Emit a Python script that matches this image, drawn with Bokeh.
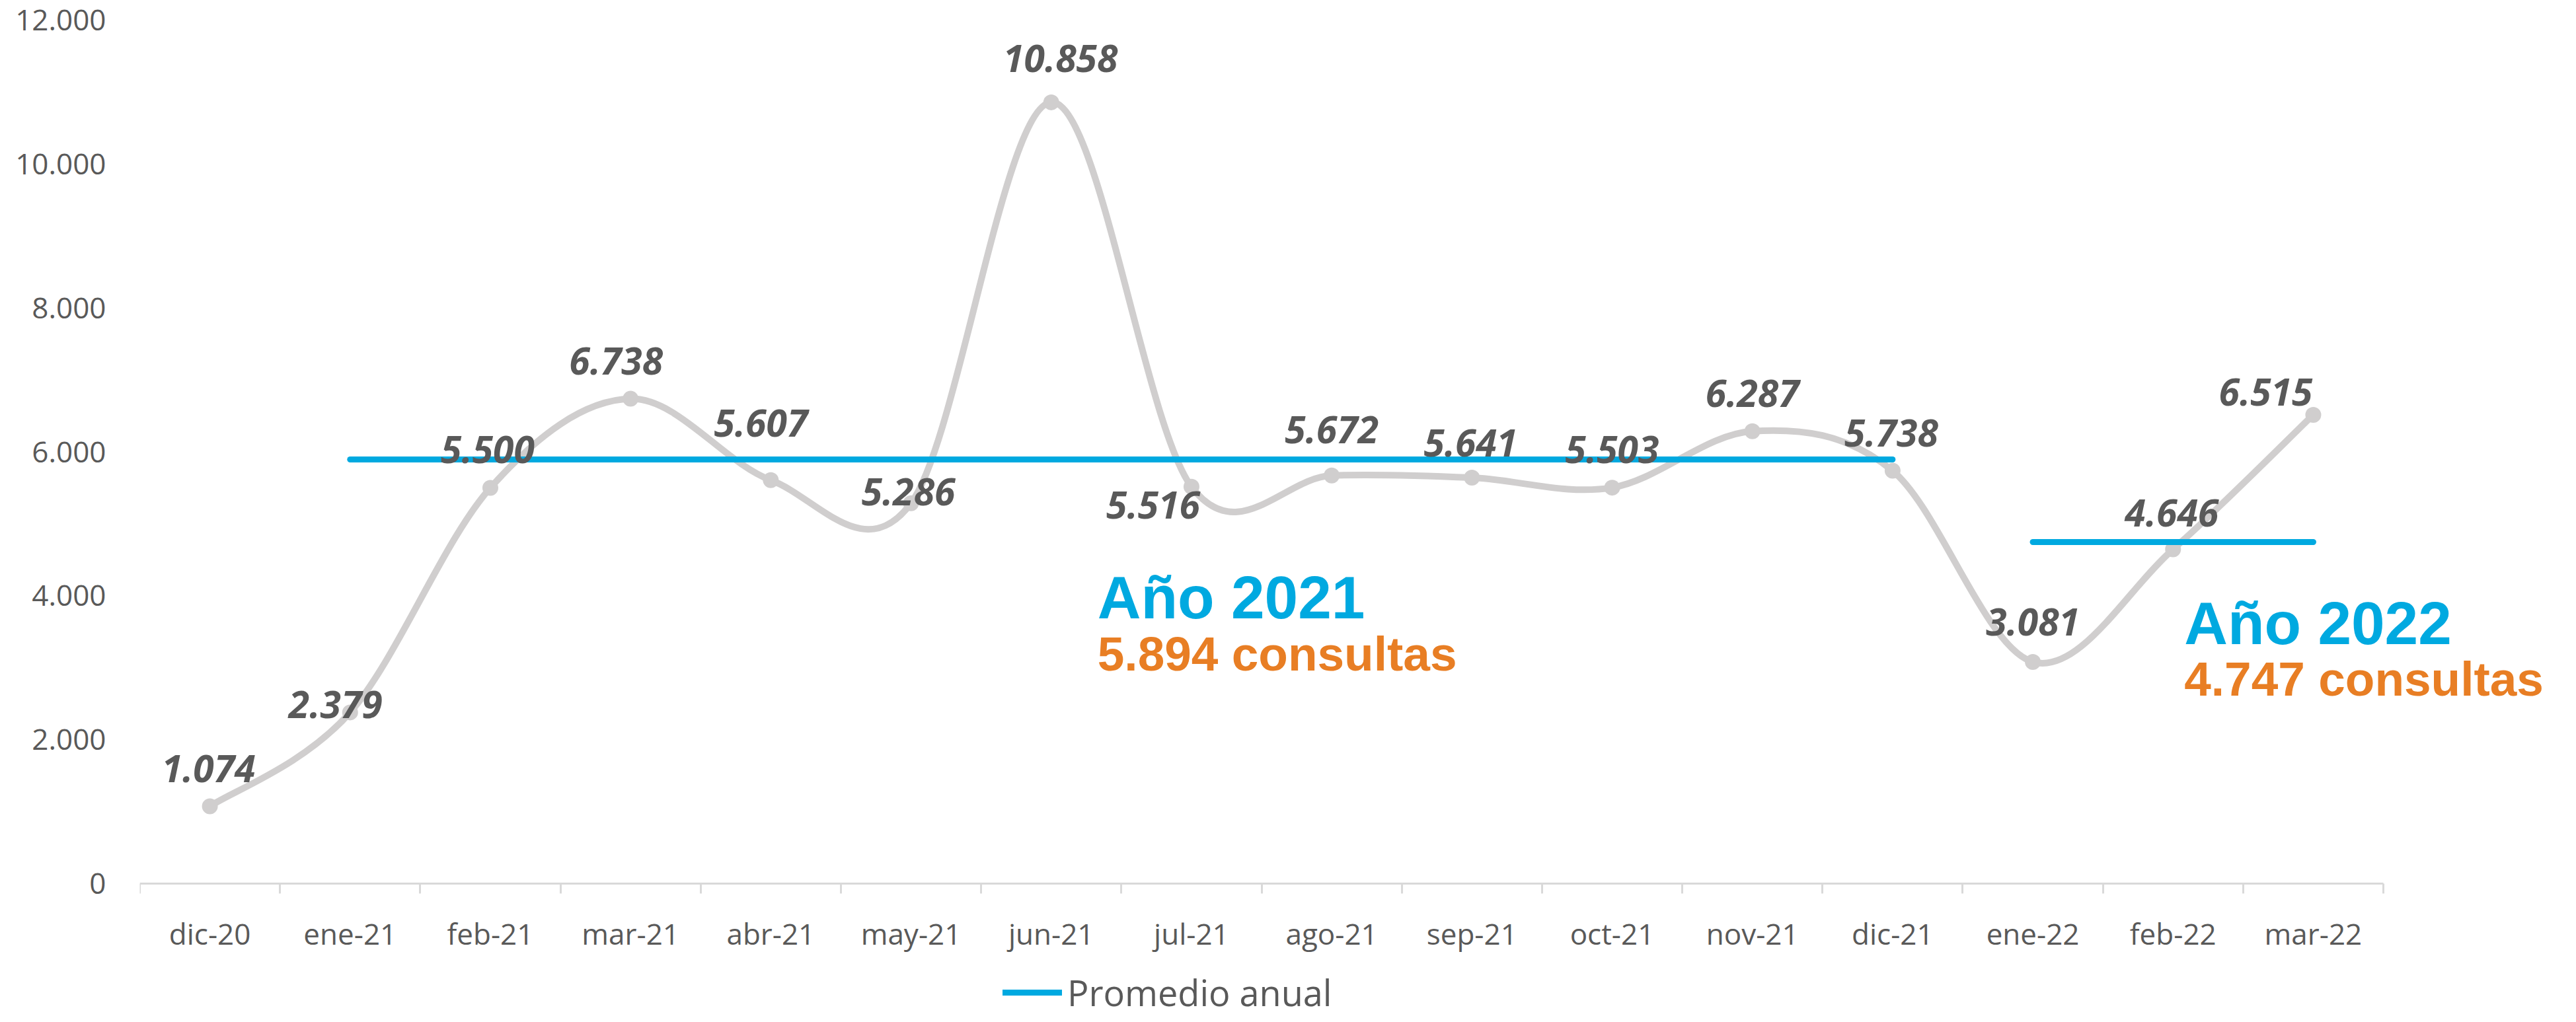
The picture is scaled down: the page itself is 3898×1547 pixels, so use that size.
from bokeh.plotting import figure
from bokeh.models import (Range1d, FixedTicker, ColumnDataSource, Legend, LegendItem,
                          CustomJSTickFormatter, Label)
from bokeh.core.properties import value
from bokeh.embed import file_html
from bokeh.resources import INLINE

# ---------------- data ----------------
months = ["dic-20", "ene-21", "feb-21", "mar-21", "abr-21", "may-21", "jun-21", "jul-21",
          "ago-21", "sep-21", "oct-21", "nov-21", "dic-21", "ene-22", "feb-22", "mar-22"]
consultas = [1074, 2379, 5500, 6738, 5607, 5286, 10858, 5516,
             5672, 5641, 5503, 6287, 5738, 3081, 4646, 6515]
avg_2021 = 5894
avg_2021_months = ["ene-21", "dic-21"]
avg_2022 = 4747
avg_2022_months = ["ene-22", "mar-22"]
y_ticks = [0, 2000, 4000, 6000, 8000, 10000, 12000]
legend_label = "Promedio anual"
title_2021 = "Año 2021"
sub_2021 = "5.894 consultas"
title_2022 = "Año 2022"
sub_2022 = "4.747 consultas"

# label placement (screen px): horizontal shift, height of label centre above point
lab_dx = [-2, -22, -4, -22, -15, -4, 14, -58, 0, -2, 0, 0, -2, 0, -2, -72]
lab_dy = [77, 32, 78, 77, 106, 37, 86, -8, 89, 73, 78, 77, 77, 80, 75, 54]

GRAY_LINE = "#D0CECE"
TXT = "#595959"
BLUE = "#00A9E0"
ORANGE = "#E87E24"

n = len(months)
xs = [i + 0.5 for i in range(n)]
idx = {m: i for i, m in enumerate(months)}

W, H = 3882, 1531
LEFT, TOP = 211, 30
CAT_PX = 212.19                       # screen width of one month
PX_PER_UNIT = 1307 / 12000            # screen px per consulta
x_end = (W - LEFT) / CAT_PX           # frame runs to the right edge of the canvas
y_start = -194 / PX_PER_UNIT          # and down to its bottom (axis drawn at y = 0)

p = figure(width=W, height=H, x_range=Range1d(0, x_end), y_range=Range1d(y_start, 12000),
           output_backend="svg", toolbar_location=None,
           min_border_left=LEFT, min_border_right=0, min_border_top=TOP, min_border_bottom=0)
p.outline_line_color = None
p.xgrid.visible = False
p.ygrid.visible = False
p.background_fill_color = "white"
p.border_fill_color = "white"

# ---------------- axes ----------------
xa = p.xaxis[0]
xa.fixed_location = 0
xa.bounds = (0, n)
xa.ticker = FixedTicker(ticks=xs, minor_ticks=list(range(n + 1)))
xa.formatter = CustomJSTickFormatter(args=dict(cats=months),
                                     code="return cats[Math.floor(tick)];")
xa.axis_line_color = "#D9D9D9"
xa.axis_line_width = 3
xa.major_tick_in = 0
xa.major_tick_out = 0
xa.major_tick_line_alpha = 0
xa.minor_tick_in = 0
xa.minor_tick_out = 15
xa.minor_tick_line_color = "#D9D9D9"
xa.minor_tick_line_width = 3
xa.major_label_text_font = "Open Sans"
xa.major_label_text_font_size = "44px"
xa.major_label_text_color = TXT
xa.major_label_standoff = 30

ya = p.yaxis[0]
ya.bounds = (0, 12000)
ya.ticker = FixedTicker(ticks=y_ticks, minor_ticks=[])
ya.formatter = CustomJSTickFormatter(
    code="return Math.round(tick).toString().replace(/\\B(?=(\\d{3})+(?!\\d))/g, '.');")
ya.axis_line_alpha = 0
ya.major_tick_in = 0
ya.major_tick_out = 0
ya.major_tick_line_alpha = 0
ya.minor_tick_line_alpha = 0
ya.major_label_text_font = "Open Sans"
ya.major_label_text_font_size = "44px"
ya.major_label_text_color = TXT
ya.major_label_standoff = 51

# ---------------- smoothed line (Catmull-Rom as cubic Bezier) ----------------
x0, y0, x1, y1, cx0, cy0, cx1, cy1 = [], [], [], [], [], [], [], []
for i in range(n - 1):
    a = max(i - 1, 0)
    d = min(i + 2, n - 1)
    x0.append(xs[i]); y0.append(consultas[i])
    x1.append(xs[i + 1]); y1.append(consultas[i + 1])
    cx0.append(xs[i] + (xs[i + 1] - xs[a]) / 6.0)
    cy0.append(consultas[i] + (consultas[i + 1] - consultas[a]) / 6.0)
    cx1.append(xs[i + 1] - (xs[d] - xs[i]) / 6.0)
    cy1.append(consultas[i + 1] - (consultas[d] - consultas[i]) / 6.0)
bez = ColumnDataSource(dict(x0=x0, y0=y0, x1=x1, y1=y1, cx0=cx0, cy0=cy0, cx1=cx1, cy1=cy1))
p.bezier(x0="x0", y0="y0", x1="x1", y1="y1", cx0="cx0", cy0="cy0", cx1="cx1", cy1="cy1",
         source=bez, line_color=GRAY_LINE, line_width=10, line_cap="round")

pts = ColumnDataSource(dict(
    x=xs, y=consultas,
    label=[f"{v:,}".replace(",", ".") for v in consultas],
    dx=lab_dx,
    dy=[-(d - 20) for d in lab_dy],
))
p.scatter(x="x", y="y", source=pts, size=24, fill_color=GRAY_LINE, line_color=None)

# ---------------- average lines ----------------
r21 = p.line(x=[xs[idx[m]] for m in avg_2021_months], y=[avg_2021, avg_2021],
             line_color=BLUE, line_width=9, line_cap="round")
r22 = p.line(x=[xs[idx[m]] for m in avg_2022_months], y=[avg_2022, avg_2022],
             line_color=BLUE, line_width=9, line_cap="round")

# ---------------- data labels ----------------
p.text(x="x", y="y", text="label", source=pts, x_offset="dx", y_offset="dy",
       text_align="center", text_baseline="alphabetic",
       text_font=value("Open Sans"), text_font_size="57px", text_font_style="bold italic",
       text_color=TXT)

# ---------------- annotations ----------------
def add_label(x, y, txt, size, color):
    p.add_layout(Label(x=x, y=y, text=txt, text_align="left", text_baseline="alphabetic",
                       text_font="Liberation Sans", text_font_size=size,
                       text_font_style="bold", text_color=color))

add_label(6.83, 3975, title_2021, "91px", BLUE)
add_label(6.83, 3195, sub_2021, "73px", ORANGE)
add_label(14.58, 3620, title_2022, "91px", BLUE)
add_label(14.58, 2850, sub_2022, "73px", ORANGE)

# ---------------- legend ----------------
legend = Legend(items=[LegendItem(label=legend_label, renderers=[r21, r22])],
                location=(1306, -8), orientation="horizontal",
                border_line_color=None, background_fill_alpha=0,
                padding=0, margin=0, spacing=0,
                glyph_width=90, glyph_height=50, label_standoff=8,
                label_text_font="Open Sans", label_text_font_size="54px",
                label_text_color=TXT)
p.add_layout(legend, "center")

open("out.html", "w").write(file_html(p, INLINE))
